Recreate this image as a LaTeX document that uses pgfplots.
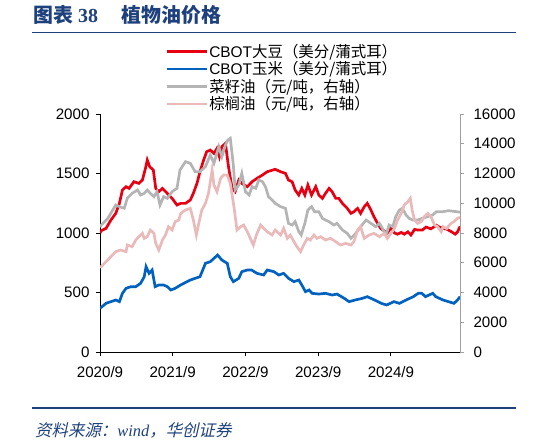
\documentclass[border=0pt]{standalone}
\usepackage{fontspec}
\setmainfont{Liberation Sans}
\newfontfamily\cjk{Noto Sans CJK SC}
\newfontfamily\cjkslant{Noto Sans CJK SC}[FakeSlant=0.22]
\newfontfamily\serif{Liberation Serif}
\usepackage{pgfplots}
\pgfplotsset{compat=1.18}
\definecolor{soyred}{RGB}{230,0,18}
\definecolor{cornblue}{RGB}{0,98,190}
\definecolor{rapegray}{RGB}{180,180,180}
\definecolor{palmpink}{RGB}{234,186,186}
\definecolor{titleblue}{RGB}{30,65,125}
\definecolor{axisgray}{RGB}{160,160,160}

\pgfplotstableread{
m v
0 1000
0.2 1019
1.0 1039
1.8 1109
2.6 1165
3.2 1249
3.7 1361
4.3 1389
4.8 1375
5.6 1431
6.4 1417
7.0 1445
7.5 1543
7.8 1613
8.2 1557
8.8 1529
9.2 1375
9.7 1347
10.3 1375
11.1 1333
11.9 1291
12.7 1235
13.3 1249
14.1 1249
14.9 1277
15.4 1333
16.0 1417
16.5 1515
17.1 1613
17.6 1683
18.2 1697
18.8 1669
19.3 1711
19.7 1641
20.1 1725
20.7 1753
21.2 1557
21.8 1375
22.3 1347
22.9 1445
23.4 1417
24.3 1389
25.1 1431
25.9 1459
26.8 1487
27.6 1515
28.9 1535
29.8 1515
30.6 1501
31.1 1445
31.7 1431
32.2 1361
32.8 1319
33.3 1375
33.8 1319
34.3 1403
34.9 1319
35.6 1389
36.1 1319
36.7 1291
37.2 1333
37.8 1375
38.3 1347
38.9 1291
39.4 1291
40.0 1249
40.8 1207
41.4 1165
41.9 1179
42.5 1207
43.0 1165
43.6 1221
44.1 1249
44.7 1193
45.2 1137
45.8 1081
46.3 1039
46.9 1017
47.4 1000
48.0 1040
48.6 1000
49.1 990
49.7 1005
50.2 990
50.8 1010
51.3 983
51.9 1030
52.4 1025
53.2 1025
53.8 1050
54.6 1035
55.5 1065
56.0 1050
56.6 1039
57.3 1030
58.0 1010
58.6 990
59.0 1010
59.4 1055
}\soy

\pgfplotstableread{
m v
0 367
1.0 409
1.8 423
2.6 437
3.2 423
3.7 493
4.3 535
5.1 549
5.9 549
6.7 577
7.3 633
7.6 717
8.1 661
8.6 689
9.1 549
9.7 563
10.5 563
11.1 549
11.7 521
12.4 535
13.3 563
14.9 605
16.5 633
17.4 745
18.2 759
19.4 815
20.1 773
21.0 745
21.5 633
22.0 591
22.9 619
23.4 675
24.3 689
25.0 689
25.9 661
27.0 647
27.6 689
28.7 675
29.5 647
30.3 661
31.1 619
32.0 591
32.8 605
33.3 563
33.9 507
34.5 521
35.0 493
36.1 487
37.2 493
38.3 479
39.1 487
40.3 451
41.1 423
42.1 437
43.3 451
44.1 465
45.3 437
46.4 409
47.3 395
48.5 423
49.4 409
50.5 437
51.7 465
52.5 493
53.1 493
53.7 465
54.9 493
55.4 465
56.6 437
57.5 423
58.4 409
59.0 437
59.4 465
}\corn

\pgfplotstableread{
m v
0 8400
0.2 8538
1.3 8986
2.1 9547
2.6 9883
3.2 9771
4.0 9659
4.5 10331
5.3 10667
6.2 10891
6.7 10555
7.3 10667
7.8 10891
8.3 10667
8.9 10443
9.4 10779
9.9 9883
10.5 10443
11.1 10331
11.9 10779
12.7 11003
13.2 12235
14.1 12796
14.9 12684
15.7 12123
16.5 12123
17.4 12460
18.2 13244
18.8 12684
19.6 13805
20.1 13132
20.7 13917
21.1 14253
21.5 14365
22.0 12572
22.3 10891
22.9 11227
23.4 12011
24.0 10779
24.6 10555
25.1 11115
25.7 11003
26.2 11563
26.8 11451
27.3 11115
27.8 10443
28.4 10219
28.9 9995
29.8 9771
30.6 9659
31.1 8648
31.7 8536
32.2 8760
32.8 8088
33.2 7864
33.8 8648
34.3 9547
34.9 9771
35.4 9435
36.1 9435
36.7 8986
37.2 8872
37.8 8760
38.6 8536
39.1 8648
40.0 8200
40.8 7976
41.4 7640
42.2 7976
43.0 8424
43.9 8872
44.7 8648
45.5 8424
46.1 8648
46.6 8312
47.2 7864
47.7 8536
48.3 8424
48.8 9099
49.4 9547
49.9 9659
50.5 9211
51.0 8986
51.6 8872
52.4 8872
53.2 8986
54.1 9099
54.9 9211
55.5 9435
56.0 9435
56.6 9435
57.5 9500
58.5 9450
59.4 9400
}\rape

\pgfplotstableread{
m v
0 5700
0.2 5736
1.0 6072
1.8 6408
2.6 6744
3.4 6856
4.3 6744
4.5 7192
5.3 7080
5.9 7528
6.4 7752
7.0 7976
7.3 7640
7.8 7752
8.3 8200
8.9 7976
9.2 7304
9.7 6856
10.3 7528
10.8 7864
11.3 8424
11.9 8200
12.4 8760
13.0 8872
13.3 9300
14.1 9547
14.9 9659
15.4 8872
15.9 7864
16.3 8648
16.8 9547
17.4 9995
17.9 10667
18.5 12235
18.8 11227
19.3 10779
19.9 11675
20.4 11899
21.0 11899
21.5 11339
22.1 9771
22.6 8200
23.2 8424
23.7 8536
24.3 8088
24.8 7640
25.3 7192
25.8 7864
26.5 8536
27.0 8312
27.6 8088
28.4 7864
28.9 8200
29.8 7864
30.3 8312
30.9 7640
31.4 7864
32.0 7416
32.5 7080
33.1 6744
33.6 7192
34.2 7640
34.7 7528
35.3 7864
35.8 7640
36.4 7752
37.2 7528
38.0 7640
38.9 7416
39.7 7192
40.5 7304
41.4 7192
41.9 7416
42.5 8200
43.0 8424
43.6 7640
44.4 7864
45.2 7976
46.1 7752
46.9 7976
47.4 7640
48.0 7976
48.6 8312
49.1 8872
49.7 9323
50.2 9883
50.8 10107
51.2 10331
51.5 9547
51.9 8872
52.4 8648
53.0 8760
53.5 9099
54.1 9323
54.6 9099
55.2 8536
55.7 8424
56.3 8088
56.6 8424
57.2 8300
57.8 8600
58.5 8800
59.0 9000
59.4 9050
}\palm

\begin{document}
\begin{tikzpicture}
\begin{axis}[
  name=main,
  at={(100bp,94bp)}, anchor=origin, scale only axis,
  width=360bp, height=238bp,
  xmin=0, xmax=59.4, ymin=0, ymax=2000,
  enlargelimits=false,
  axis x line*=bottom, axis y line*=left,
  axis line style={-, black, line width=0.9bp},
  xtick={0,12,24,36,48},
  xticklabels={2020/9,2021/9,2022/9,2023/9,2024/9},
  ytick={0,500,1000,1500,2000},
  tick align=outside, major tick length=4bp,
  tick style={black, line width=0.9bp},
  ticklabel style={font=\fontsize{15.2}{17}\selectfont},
  xticklabel style={yshift=-7bp},
  yticklabel style={xshift=-3bp},
  /pgf/number format/1000 sep={},
  /pgf/number format/assume math mode=true,
]
\addplot[soyred, line width=2.7bp] table[x=m,y=v] {\soy};
\addplot[cornblue, line width=2.7bp] table[x=m,y=v] {\corn};
\end{axis}

\begin{axis}[
  at={(100bp,94bp)}, anchor=origin, scale only axis,
  width=360bp, height=238bp,
  xmin=0, xmax=59.4, ymin=0, ymax=16000,
  enlargelimits=false,
  axis x line=none, axis y line*=right,
  axis line style={-, axisgray, line width=0.9bp},
  ytick={0,2000,4000,6000,8000,10000,12000,14000,16000},
  scaled y ticks=false,
  /pgf/number format/1000 sep={},
  /pgf/number format/assume math mode=true,
  tick align=outside, major tick length=4bp,
  tick style={axisgray, line width=0.9bp},
  ticklabel style={font=\fontsize{15.2}{17}\selectfont},
  yticklabel style={xshift=6bp},
  legend cell align=left,
  legend style={at={(0.181,1.300)}, anchor=north west, draw=none, fill=none,
    inner sep=0pt, font=\fontsize{15.5}{17}\selectfont,
    row sep=0.4bp, nodes={inner sep=1.2bp}},
  legend image code/.code={\draw[#1] (0bp,0bp) -- (40bp,0bp);},
]
\addlegendimage{soyred, line width=2.7bp}
\addlegendentry{CBOT{\cjk 大豆（美分/蒲式耳）}}
\addlegendimage{cornblue, line width=2.7bp}
\addlegendentry{CBOT{\cjk 玉米（美分/蒲式耳）}}
\addplot[rapegray, line width=2.7bp] table[x=m,y=v] {\rape};
\addlegendentry{{\cjk 菜籽油（元/吨，右轴）}}
\addplot[palmpink, line width=2.7bp] table[x=m,y=v] {\palm};
\addlegendentry{{\cjk 棕榈油（元/吨，右轴）}}
\end{axis}

% title
\node[anchor=base west, inner sep=0, text=titleblue, font=\fontsize{20}{20}\selectfont\bfseries]
  at (33bp,423bp) {{\cjk 图表}\hspace{5bp}{\serif 38}\hspace{24bp}{\cjk 植物油价格}};
\draw[titleblue, line width=1.3bp] (32bp,413.5bp) -- (516bp,413.5bp);
% footer
\draw[titleblue, line width=1.3bp] (32bp,38bp) -- (516bp,38bp);
\node[anchor=base west, inner sep=0, text=titleblue, font=\fontsize{16.5}{17}\selectfont]
  at (35bp,9.5bp) {{\cjkslant 资料来源：}{\serif\itshape wind}{\cjkslant ，华创证券}};

\pgfresetboundingbox
\path[use as bounding box] (0bp,0bp) rectangle (547bp,446bp);
\end{tikzpicture}
\end{document}
